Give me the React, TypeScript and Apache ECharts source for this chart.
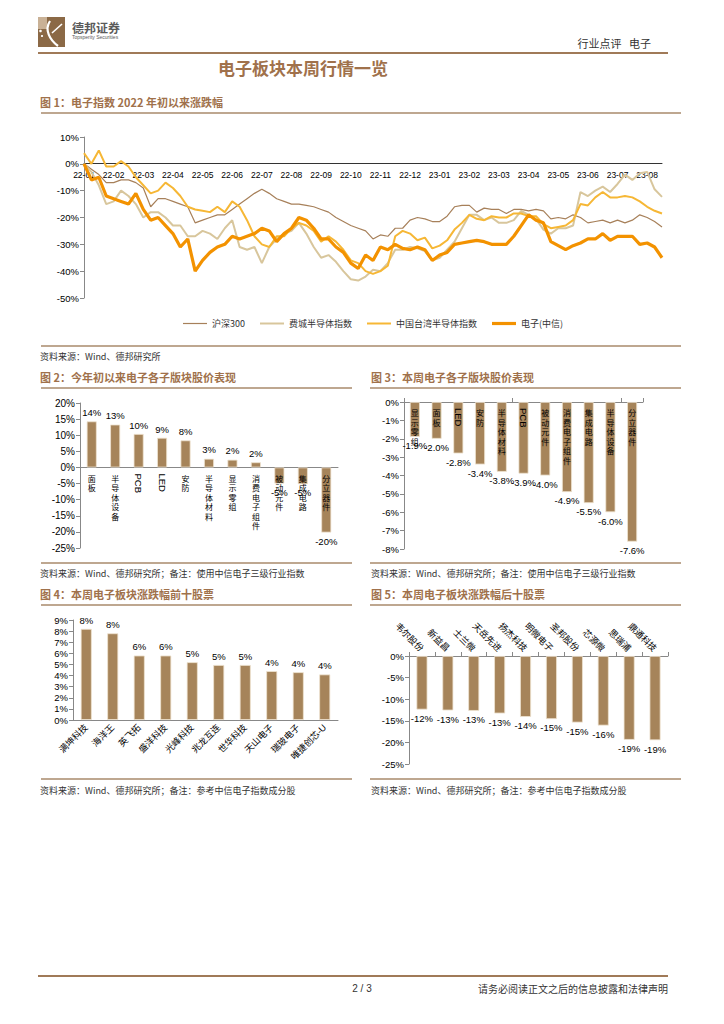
import React, { useEffect, useRef } from 'react';
import * as echarts from 'echarts';

// ---------- Figure 1: weekly samples since 2022-01 (4 per month) ----------
const monthLabels = ['22-01', '22-02', '22-03', '22-04', '22-05', '22-06', '22-07', '22-08', '22-09', '22-10',
  '22-11', '22-12', '23-01', '23-02', '23-03', '23-04', '23-05', '23-06', '23-07', '23-08'];
const samplesPerMonth = 4;
const seriesNames = ['沪深300', '费城半导体指数', '中国台湾半导体指数', '电子(中信)'];
const hs300 = [0, -2, -4, -7, -7, -6, -6, -7, -9, -16, -13, -13, -14, -15, -16, -22, -21, -20, -19, -19,
  -17, -15, -13, -11, -9.5, -11, -13, -14, -15, -15, -15.5, -16, -17, -18, -20, -21.5, -23, -24, -25, -28,
  -26.5, -27, -24, -24, -21, -20, -20.5, -21.5, -21.5, -19.5, -16, -15.5, -15.5, -18, -16.5, -17, -17, -18.5, -17, -17,
  -17.5, -17, -17.5, -20.5, -20, -20.5, -19, -20, -22, -21.5, -21, -22, -21, -22, -21, -19, -20, -21.5, -23.5];
const sox = [0, -3, -8, -15, -14, -10, -12, -15, -20, -18, -18, -20, -23, -23, -27, -27, -25, -26, -28, -24,
  -21, -31, -32, -31, -37, -31, -28, -26, -25, -22, -26, -31, -35, -34, -36.5, -40, -43, -43.5, -42, -39.5,
  -40, -37, -32, -32, -31, -31.5, -32.5, -36, -35, -32, -29, -24, -19, -19, -21, -20, -22, -22, -21, -17.5,
  -19, -20.5, -24.5, -26, -24, -24, -23, -10.5, -12, -10, -8.5, -10.5, -7.5, -4, -6, -3.5, -3, -9.5, -12.3];
const twSemi = [4, 0, 5, -1, -1, 1, -1, -5, -8, -11, -10, -7, -9, -12, -16, -17, -17.5, -18, -16, -18,
  -14, -16, -21, -27, -30, -31, -27, -27, -24, -22, -23, -25, -29, -27, -29, -32, -36, -37, -40, -41,
  -40, -38, -27, -25, -26, -28.5, -27.5, -31.5, -30.5, -28.5, -24.5, -22, -19, -20.5, -21, -19.5, -20, -20, -18.5, -18.5,
  -19.5, -19.5, -22.5, -24, -23.5, -23, -21, -15, -15.5, -12.5, -10.5, -12.5, -12.5, -12, -12.5, -14, -16, -17.5, -18.5];
const elec = [0, -6, -5, -12, -13, -14, -15, -11, -17, -21, -20, -23, -26, -31, -28, -40, -36, -33, -31, -30,
  -27, -28, -27, -26, -24, -25, -29, -26, -24, -20, -21, -24, -28, -28, -31, -33, -37, -39, -34, -36,
  -31, -32, -30, -31.5, -32, -31, -32, -36, -34, -33, -30, -29.5, -29, -28.5, -29, -30, -30, -30, -27, -23,
  -19, -21, -22, -29, -30.5, -32, -30.5, -29.5, -28, -28, -26, -28.5, -27, -27, -27, -30, -29.5, -31, -35];

// ---------- Figure 2 ----------
const ytdCats = ['面板', '半导体设备', 'PCB', 'LED', '安防', '半导体材料', '显示零组', '消费电子组件', '被动元件', '集成电路', '分立器件'];
const ytdVals = [14.3, 13.3, 10.4, 9.2, 8.4, 2.7, 2.4, 1.6, -5.0, -5.2, -20.2];

// ---------- Figure 3 ----------
const weekCats = ['显示零组', '面板', 'LED', '安防', '半导体材料', 'PCB', '被动元件', '消费电子组件', '集成电路', '半导体设备', '分立器件'];
const weekVals = [-1.9, -2.0, -2.8, -3.4, -3.8, -3.9, -4.0, -4.9, -5.5, -6.0, -7.6];

// ---------- Figure 4 ----------
const topNames = ['满坤科技', '海洋王', '英飞拓', '盛洋科技', '光峰科技', '兆龙互连', '世华科技', '天山电子', '瑞玻电子', '唯捷创芯-U'];
const topVals = [8.2, 7.8, 5.8, 5.8, 5.2, 4.95, 4.95, 4.4, 4.3, 4.1];

// ---------- Figure 5 ----------
const bottomNames = ['韦尔股份', '新益昌', '士兰微', '天岳先进', '扬杰科技', '明微电子', '圣邦股份', '芯源微', '思瑞浦', '鼎通科技'];
const bottomVals = [-12.4, -12.6, -12.7, -13.3, -14.1, -14.6, -15.4, -16.1, -19.4, -19.5];

const CJK = '"Noto Sans CJK SC", sans-serif';
const SANS = '"Liberation Sans", Arial, "Noto Sans CJK SC", sans-serif';
const BAR = '#a6845a';
const TITLE = '#a0714b';
const RULE = '#a88a6b';
const AXIS = '#888888';
const lineColors = ['#a7805a', '#d8c69c', '#f6b735', '#f39200'];
const lineWidths = [1.2, 2, 2, 3.2];

const isLatin = (v: string) => /^[A-Za-z]+$/.test(v);
const stack = (v: string) => (isLatin(v) ? v : v.split('').join('\n'));

function txt(text: string, x: number, y: number, o: any = {}) {
  return {
    type: 'text', x, y, silent: true,
    style: {
      text, fill: o.fill || '#333', fontSize: o.fontSize || 9, fontFamily: o.fontFamily || CJK,
      fontWeight: o.fontWeight || 'normal', textAlign: o.align || 'left', textVerticalAlign: 'middle',
    },
  };
}
function rule(x1: number, x2: number, y: number, w = 1.5, c = RULE) {
  return { type: 'line', silent: true, shape: { x1, y1: y, x2, y2: y }, style: { stroke: c, lineWidth: w } };
}

// category-name labels drawn under the zero line of a bar chart (vertical CJK, rotated Latin)
function nameLabelSeries(cats: string[], xAxisIndex: number, yAxisIndex: number, barWidth: number) {
  return {
    type: 'bar', xAxisIndex, yAxisIndex, barWidth, barGap: '-100%', silent: true, z: 5,
    itemStyle: { color: 'rgba(0,0,0,0)' },
    data: cats.map(c => ({
      name: c, value: 0,
      label: isLatin(c)
        ? { rotate: -90, align: 'left', verticalAlign: 'middle', fontSize: 9.5, fontFamily: SANS }
        : {},
    })),
    label: {
      show: true, position: 'bottom', distance: 6, color: '#000', fontSize: 8, lineHeight: 9.5, fontFamily: CJK,
      formatter: (p: any) => stack(p.name),
    },
  };
}

export default function App() {
  const ref = useRef<HTMLDivElement>(null);
  useEffect(() => {
    if (!ref.current) return;
    const chart = echarts.init(ref.current, undefined, { renderer: 'svg' });
    const weekAxis = elec.map((_, i) => monthLabels[Math.floor(i / samplesPerMonth)] + '#' + (i % samplesPerMonth));

    const valLabel = (fmt: (v: number) => string) => ({
      show: true, fontSize: 9.5, color: '#000', fontFamily: SANS,
      formatter: (p: any) => fmt(p.value),
    });

    const yAxisBase = (gridIndex: number, min: number, max: number, interval: number, fontSize = 9.5) => ({
      type: 'value', gridIndex, min, max, interval,
      axisLine: { show: true, lineStyle: { color: AXIS } },
      axisTick: { show: true, length: 4, lineStyle: { color: AXIS } },
      splitLine: { show: false },
      axisLabel: { formatter: '{value}%', fontSize, color: '#000', fontFamily: SANS, margin: 5 },
    });
    const barStyle = { color: BAR, borderColor: '#efe3d0', borderWidth: 0.8 };

    const option: any = {
      animation: false,
      textStyle: { fontFamily: SANS },
      grid: [
        { left: 84, top: 137, width: 578, height: 161 },
        { left: 80, top: 403, width: 258, height: 145 },
        { left: 404, top: 402, width: 239, height: 147 },
        { left: 73, top: 620, width: 265, height: 100 },
        { left: 409, top: 656, width: 259, height: 108 },
      ],
      legend: {
        left: 178, top: 314, itemWidth: 24, itemHeight: 8, itemGap: 15,
        data: seriesNames.map((n, i) => ({
          name: n,
          icon: 'path://M0 0H48V' + (lineWidths[i] * 2).toFixed(1) + 'H0Z',
        })),
        textStyle: { fontSize: 9, color: '#333', fontFamily: CJK },
      },
      xAxis: [
        {
          type: 'category', gridIndex: 0, data: weekAxis, boundaryGap: false,
          axisLine: { onZero: false, lineStyle: { color: '#333' } },
          offset: -135,
          axisTick: { show: false },
          axisLabel: {
            interval: (i: number) => i % samplesPerMonth === 0,
            formatter: (v: string) => v.split('#')[0],
            fontSize: 8.5, color: '#000', fontFamily: SANS, margin: 8,
          },
        },
        {
          type: 'category', gridIndex: 1, data: ytdCats,
          axisLine: { onZero: true, lineStyle: { color: AXIS } },
          axisTick: { show: false },
          axisLabel: { show: false },
        },
        {
          type: 'category', gridIndex: 2, data: weekCats, position: 'top',
          axisLine: { onZero: false, lineStyle: { color: AXIS } },
          axisTick: { show: true, length: 4, lineStyle: { color: AXIS } },
          axisLabel: { show: false },
        },
        {
          type: 'category', gridIndex: 3, data: topNames,
          axisLine: { onZero: true, lineStyle: { color: AXIS } },
          axisTick: { show: false },
          axisLabel: { interval: 0, rotate: 45, fontSize: 9, color: '#000', fontFamily: SANS, margin: 6 },
        },
        {
          type: 'category', gridIndex: 4, data: bottomNames, position: 'top',
          axisLine: { onZero: false, lineStyle: { color: AXIS } },
          axisTick: { show: true, length: 4, lineStyle: { color: AXIS } },
          axisLabel: { interval: 0, rotate: 45, fontSize: 9, color: '#000', fontFamily: SANS, margin: 6 },
        },
      ],
      yAxis: [
        yAxisBase(0, -50, 10, 10, 9.5),
        yAxisBase(1, -25, 20, 5, 10),
        yAxisBase(2, -8, 0, 1, 9.5),
        yAxisBase(3, 0, 9, 1, 9.5),
        yAxisBase(4, -25, 0, 5, 9.5),
      ],
      series: [
        ...[hs300, sox, twSemi, elec].map((d, i) => ({
          name: seriesNames[i], type: 'line', xAxisIndex: 0, yAxisIndex: 0, data: d, symbol: 'none',
          lineStyle: { color: lineColors[i], width: lineWidths[i] }, itemStyle: { color: lineColors[i] },
        })),
        {
          type: 'bar', xAxisIndex: 1, yAxisIndex: 1, barWidth: 10, barGap: '-100%',
          itemStyle: barStyle,
          data: ytdVals.map(v => ({ value: v, label: { position: v >= 0 ? 'top' : 'bottom' } })),
          label: { ...valLabel(v => Math.round(v) + '%'), distance: 4 },
        },
        nameLabelSeries(ytdCats, 1, 1, 10),
        {
          type: 'bar', xAxisIndex: 2, yAxisIndex: 2, barWidth: 10, barGap: '-100%',
          itemStyle: barStyle,
          data: weekVals,
          label: { ...valLabel(v => v.toFixed(1) + '%'), position: 'bottom', distance: 4 },
        },
        nameLabelSeries(weekCats, 2, 2, 10),
        {
          type: 'bar', xAxisIndex: 3, yAxisIndex: 3, barWidth: 11,
          itemStyle: barStyle,
          data: topVals,
          label: { ...valLabel(v => Math.round(v) + '%'), position: 'top', distance: 4 },
        },
        {
          type: 'bar', xAxisIndex: 4, yAxisIndex: 4, barWidth: 11,
          itemStyle: barStyle,
          data: bottomVals,
          label: { ...valLabel(v => Math.round(v) + '%'), position: 'bottom', distance: 4 },
        },
      ],
      graphic: [
        // logo
        { type: 'rect', silent: true, shape: { x: 38, y: 17, width: 27, height: 30 }, style: { fill: '#8b6946' } },
        { type: 'rect', silent: true, shape: { x: 38, y: 17, width: 9, height: 12 }, style: { fill: '#c9b196' } },
        { type: 'circle', silent: true, shape: { cx: 40.5, cy: 31, r: 1.3 }, style: { fill: '#fff' } },
        { type: 'circle', silent: true, shape: { cx: 42, cy: 36, r: 1.1 }, style: { fill: '#fff' } },
        { type: 'bezierCurve', silent: true, shape: { x1: 50, y1: 21, cpx1: 44, cpy1: 30, cpx2: 50, cpy2: 40, x2: 58, y2: 46 }, style: { stroke: '#fff', lineWidth: 2.2, fill: 'none' } },
        { type: 'line', silent: true, shape: { x1: 52, y1: 33, x2: 62, y2: 24 }, style: { stroke: '#fff', lineWidth: 1.6 } },
        txt('德邦证券', 72, 27, { fontSize: 12, fontWeight: 'bold', fill: '#5a5a5a' }),
        txt('Topsperity Securities', 72, 37, { fontSize: 5, fill: '#5a5a5a', fontFamily: SANS }),
        txt('行业点评   电子', 651, 43, { fontSize: 11, fill: '#333', align: 'right' }),
        rule(38, 668, 53, 2.2, '#a07a58'),
        txt('电子板块本周行情一览', 303, 67, { fontSize: 17, fontWeight: 'bold', fill: TITLE, align: 'center' }),

        txt('图 1：电子指数 2022 年初以来涨跌幅', 40, 102, { fontSize: 11, fontWeight: 'bold', fill: TITLE }),
        rule(41, 681, 113),
        rule(41, 681, 346),
        txt('资料来源：Wind、德邦研究所', 40, 356, { fontSize: 9 }),

        txt('图 2：今年初以来电子各子版块股价表现', 40, 377, { fontSize: 11, fontWeight: 'bold', fill: TITLE }),
        txt('图 3：本周电子各子版块股价表现', 371, 377, { fontSize: 11, fontWeight: 'bold', fill: TITLE }),
        rule(41, 352, 388), rule(370, 681, 388),
        rule(41, 352, 563), rule(370, 681, 563),
        txt('资料来源：Wind、德邦研究所；备注：使用中信电子三级行业指数', 40, 573, { fontSize: 9 }),
        txt('资料来源：Wind、德邦研究所；备注：使用中信电子三级行业指数', 371, 573, { fontSize: 9 }),

        txt('图 4：本周电子板块涨跌幅前十股票', 40, 594, { fontSize: 11, fontWeight: 'bold', fill: TITLE }),
        txt('图 5：本周电子板块涨跌幅后十股票', 371, 594, { fontSize: 11, fontWeight: 'bold', fill: TITLE }),
        rule(41, 352, 605), rule(370, 681, 605),
        rule(41, 352, 779), rule(370, 681, 779),
        txt('资料来源：Wind、德邦研究所；备注：参考中信电子指数成分股', 40, 790, { fontSize: 9 }),
        txt('资料来源：Wind、德邦研究所；备注：参考中信电子指数成分股', 371, 790, { fontSize: 9 }),

        rule(38, 668, 976, 2, '#a07a58'),
        txt('2 / 3', 362, 988, { fontSize: 10, fill: '#333', fontFamily: SANS, align: 'center' }),
        txt('请务必阅读正文之后的信息披露和法律声明', 668, 988, { fontSize: 10, fill: '#333', align: 'right' }),
      ],
    };
    chart.setOption(option);
    return () => chart.dispose();
  }, []);
  return <div ref={ref} style={{ position: 'absolute', left: 0, top: 0, width: 724, height: 1024, background: '#fff' }} />;
}
